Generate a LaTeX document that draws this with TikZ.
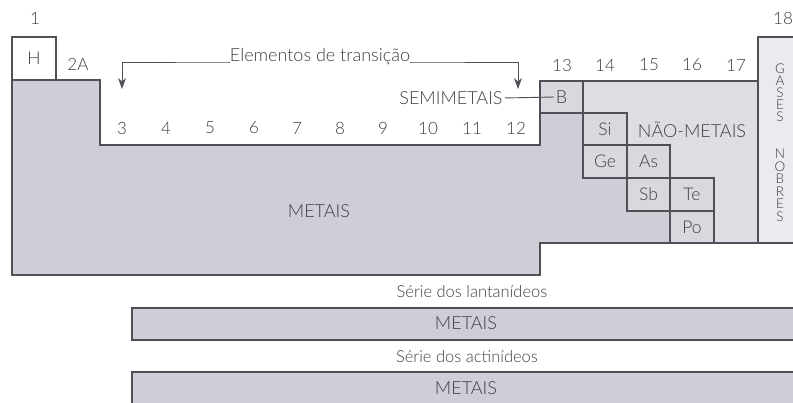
\documentclass[tikz,border=0pt]{standalone}
\usepackage{fontspec}
\setmainfont{Lato Light}
\usetikzlibrary{arrows.meta}
\definecolor{metal}{RGB}{209,205,214}
\definecolor{nonmetal}{RGB}{223,220,227}
\definecolor{semi}{RGB}{218,215,223}
\definecolor{noble}{RGB}{236,234,239}
\definecolor{ink}{RGB}{62,60,68}
\definecolor{edge}{RGB}{82,79,86}
\begin{document}
\begin{tikzpicture}[x=1pt,y=-1pt,
  lbl/.style={font=\fontsize{18}{18}\selectfont, text=ink, inner sep=0pt},
  num/.style={font=\fontsize{17}{17}\selectfont, text=ink, inner sep=0pt},
  serie/.style={font=\fontsize{16.5}{16.5}\selectfont, text=ink, inner sep=0pt},
  sml/.style={font=\fontsize{13.5}{13.5}\selectfont, text=ink, inner sep=0pt},
  outline/.style={draw=edge, line width=1.1pt, line join=miter},
  cell/.style={draw=edge, line width=1.1pt, fill=semi, inner sep=0pt, font=\fontsize{17.5}{17.5}\selectfont, text=ink},
  conn/.style={draw=edge, line width=0.9pt},
  tip/.style={-{Stealth[length=11pt,width=8pt]}}
]
\useasboundingbox (0,0) rectangle (793,403);
% nonmetal background (columns 13-17)
\fill[nonmetal] (540,81) rectangle (758,243);
% metal region
\fill[metal] (12,80) -- (100,80) -- (100,145) -- (540,145) -- (540,113) -- (583,113)
  -- (583,178) -- (627,178) -- (627,211) -- (670,211) -- (670,243) -- (540,243)
  -- (540,275) -- (12,275) -- cycle;
% noble gas column
\fill[noble] (758,37) rectangle (800,243);
% outline of the main table
\draw[outline] (12,80) -- (100,80) -- (100,145) -- (540,145) -- (540,81) -- (758,81);
\draw[outline] (758,243) -- (758,37) -- (800,37);
\draw[outline] (800,243) -- (540,243) -- (540,275) -- (12,275) -- (12,80);
% hydrogen
\node[cell, fill=white, minimum width=44pt, minimum height=43pt] (H) at (34,58.5) {H};
% semimetal cells
\node[cell, minimum width=43pt, minimum height=32pt] (B) at (561.5,97) {};
\node[lbl] (Bt) at (561.5,97) {B};
\node[cell, minimum width=44pt, minimum height=32pt] (Si) at (605,129) {Si};
\node[cell, minimum width=44pt, minimum height=33pt] (Ge) at (605,161.5) {Ge};
\node[cell, minimum width=43pt, minimum height=33pt] (As) at (648.5,161.5) {As};
\node[cell, minimum width=43pt, minimum height=33pt] (Sb) at (648.5,194.5) {Sb};
\node[cell, minimum width=44pt, minimum height=33pt] (Te) at (692,194.5) {Te};
\node[cell, minimum width=44pt, minimum height=32pt] (Po) at (692,227) {Po};
\draw[outline] (540,113) -- (583,113);
% group numbers
\node[num] (g1) at (35,18) {1};
\node[num] (g18) at (783,18) {18};
\node[num] (g2) at (78,64) {2A};
\foreach \n/\x in {13/562,14/605,15/649,16/692,17/736}
  \node[num] (g\n) at (\x,65) {\n};
\foreach \n/\x in {3/122,4/166,5/210,6/254,7/297,8/340,9/383,10/428,11/472,12/516}
  \node[num] (g\n) at (\x,128) {\n};
% labels
\node[lbl, anchor=base] (trans) at (320,62) {Elementos de transição};
\coordinate (a3) at (122,89);
\coordinate (a12) at (518,89);
\draw[conn, tip] (trans.base west) -- ++(-2,0) -| (a3);
\draw[conn, tip] (trans.base east) -- ++(2,0) -| (a12);
\node[lbl] (semimet) at (451,98) {SEMIMETAIS};
\draw[conn, shorten <=2pt, shorten >=1.5pt] (semimet.east) -- (Bt.west);
\node[lbl] (nonmet) at (692,130) {NÃO-METAIS};
\node[lbl] (metais) at (319,211) {METAIS};
% noble gases vertical text
\foreach \l/\y [count=\i] in {G/69,A/81,S/93,E/105,S/117,N/154,O/166.5,B/179,R/191.5,E/204,S/216.5}
  \node[sml] (ng\i) at (780,\y) {\l};
% lanthanides and actinides
\node[serie] (lant) at (472,292) {Série dos lantanídeos};
\draw[outline, fill=metal] (800,308) -- (132,308) -- (132,340) -- (800,340);
\node[lbl] (lantm) at (466,323) {METAIS};
\node[serie] (act) at (467,357) {Série dos actinídeos};
\draw[outline, fill=metal] (800,372) -- (132,372) -- (132,410) -- (800,410);
\node[lbl] (actm) at (466,388) {METAIS};
\end{tikzpicture}
\end{document}
